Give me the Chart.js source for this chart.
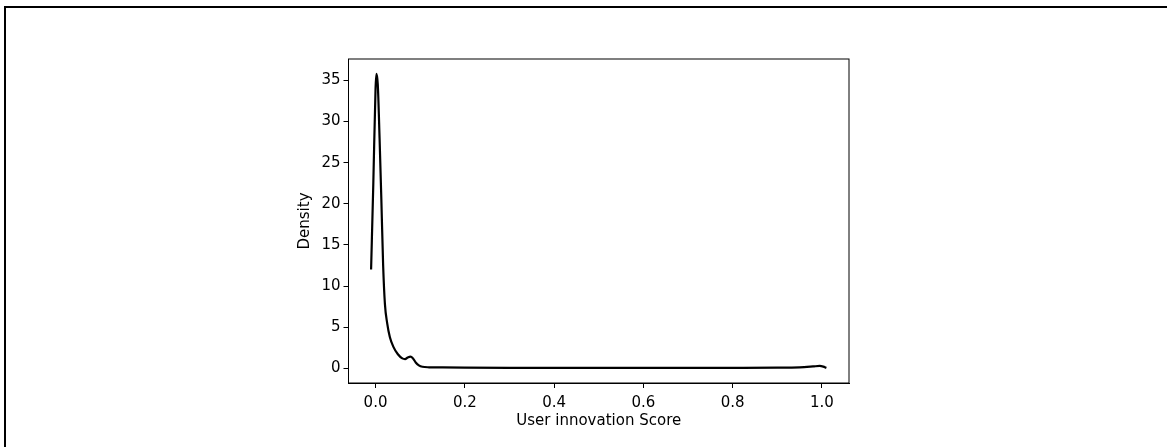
<!DOCTYPE html>
<html>
<head>
<meta charset="utf-8">
<script src="https://cdn.jsdelivr.net/npm/chart.js@4/dist/chart.umd.min.js"></script>
<style>
  html, body { margin: 0; padding: 0; background: #fff; }
  #frame { position: absolute; left: 4px; top: 6px; right: 0; bottom: 0;
           border-left: 2px solid #000; border-top: 2px solid #000; }
  #density { position: absolute; left: 0; top: 0; }
</style>
</head>
<body>
<div id="frame"></div>
<canvas id="density" width="1167" height="447"></canvas>
<script>
// KDE curve
const scoreX = [-0.010, -0.005, 0.000, 0.002, 0.005, 0.009, 0.013, 0.017, 0.021, 0.026,
  0.032, 0.040, 0.050, 0.060, 0.066, 0.072, 0.078, 0.084, 0.090, 0.097,
  0.105, 0.120, 0.150, 0.200, 0.300, 0.400, 0.500, 0.600, 0.700, 0.800,
  0.900, 0.950, 0.980, 0.995, 1.003, 1.010];
const densityY = [12.0, 22.5, 34.0, 35.8, 34.5, 28.0, 20.5, 12.5, 7.8, 5.5,
  3.8, 2.6, 1.7, 1.2, 1.12, 1.3, 1.42, 1.2, 0.7, 0.35,
  0.18, 0.12, 0.10, 0.08, 0.06, 0.05, 0.04, 0.04, 0.04, 0.05,
  0.07, 0.12, 0.22, 0.28, 0.2, 0.05];
const xTicks = [0.0, 0.2, 0.4, 0.6, 0.8, 1.0];
const yTicks = [0, 5, 10, 15, 20, 25, 30, 35];

Chart.defaults.font.family = "'DejaVu Sans', sans-serif";
Chart.defaults.font.size = 15;
Chart.defaults.color = "#000";

// matplotlib draws all four spines
const boxPlugin = {
  id: "box",
  afterDraw(chart) {
    const a = chart.chartArea, ctx = chart.ctx;
    ctx.save();
    ctx.strokeStyle = "#000";
    ctx.lineWidth = 1;
    ctx.strokeRect(a.left, a.top, a.right - a.left, a.bottom - a.top);
    ctx.restore();
  }
};

const points = scoreX.map((x, i) => ({ x: x, y: densityY[i] }));

new Chart(document.getElementById("density"), {
  type: "scatter",
  data: {
    datasets: [{
      data: points,
      showLine: true,
      borderColor: "#000",
      borderWidth: 2.2,
      pointRadius: 0,
      cubicInterpolationMode: "monotone",
      fill: false
    }]
  },
  options: {
    responsive: false,
    animation: false,
    devicePixelRatio: 1,
    layout: { padding: { left: 296, right: 318, top: 59, bottom: 17 } },
    plugins: { legend: { display: false }, tooltip: { enabled: false } },
    scales: {
      x: {
        type: "linear",
        min: -0.0606,
        max: 1.0606,
        afterFit(s) { s.height = 47; },
        afterBuildTicks(s) { s.ticks = xTicks.map(v => ({ value: v })); },
        ticks: { padding: 6, callback: v => v.toFixed(1) },
        grid: { drawOnChartArea: false, drawTicks: true, tickLength: 5, color: "#000" },
        border: { display: true, color: "#000" },
        title: { display: true, text: "User innovation Score", padding: 0 }
      },
      y: {
        type: "linear",
        min: -1.79,
        max: 37.6,
        afterFit(s) { s.width = 52.5; },
        afterBuildTicks(s) { s.ticks = yTicks.map(v => ({ value: v })); },
        ticks: { padding: 3 },
        grid: { drawOnChartArea: false, drawTicks: true, tickLength: 5, color: "#000" },
        border: { display: true, color: "#000" },
        title: { display: true, text: "Density", padding: 0 }
      }
    }
  },
  plugins: [boxPlugin]
});
</script>
</body>
</html>
